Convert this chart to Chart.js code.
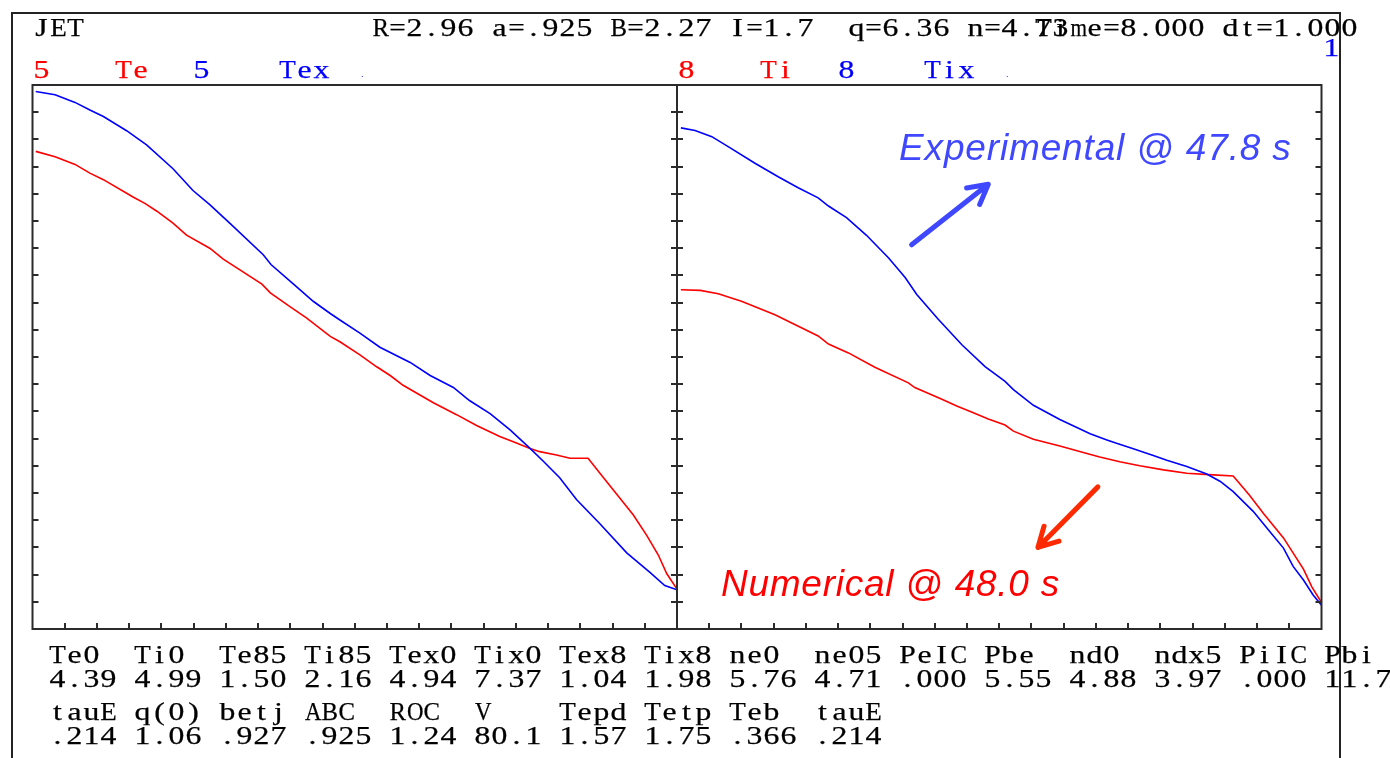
<!DOCTYPE html>
<html>
<head>
<meta charset="utf-8">
<title>JET Te / Ti profiles</title>
<script src="https://cdn.jsdelivr.net/npm/chart.js@4.4.1/dist/chart.umd.min.js"></script>
<style>
  html, body { margin: 0; padding: 0; background: #fff; }
  #page { position: relative; width: 1390px; height: 758px; overflow: hidden; background: #fff; }
  #page canvas { position: absolute; left: 0; top: 0; }
  .frame { position: absolute; left: 11px; top: 12px; width: 1330px; height: 800px;
           border: 2px solid #222; border-bottom: none; box-sizing: border-box; }
  .mono { position: absolute; font-family: "Liberation Serif", "Times New Roman", serif;
          font-size: 26px; line-height: 26px; white-space: pre; color: #000; z-index: 3;
          -webkit-text-stroke: 0.25px currentColor; }
  .mono span { display: inline-block; width: 17px; text-align: center; }
  .note { position: absolute; font-family: "Liberation Sans", Arial, sans-serif; font-style: italic;
          font-size: 37px; line-height: 37px; white-space: pre; z-index: 3; }
  .dot { position: absolute; font-family: "Liberation Sans", Arial, sans-serif; font-size: 9px;
         line-height: 9px; z-index: 3; }
</style>
</head>
<body>
<div id="page">
  <div class="frame"></div>
  <canvas id="leftPanel" width="1390" height="758"></canvas>
  <canvas id="rightPanel" width="1390" height="758"></canvas>
</div>
<script>
// ---- Profiles versus normalised radius rho (0 = axis, 1 = edge) ----
// Electron temperature (keV), simulation
const rhoTe = [0.005, 0.035, 0.066, 0.089, 0.110, 0.156, 0.175, 0.193, 0.218, 0.239, 0.275, 0.296,
               0.356, 0.369, 0.400, 0.425, 0.462, 0.477, 0.508, 0.534, 0.555, 0.575, 0.622, 0.658,
               0.689, 0.725, 0.746, 0.772, 0.787, 0.813, 0.834, 0.862, 0.886, 0.909, 0.932, 0.953,
               0.971, 0.984, 1.000];
const te    = [4.39, 4.34, 4.27, 4.19, 4.13, 3.97, 3.91, 3.84, 3.73, 3.62, 3.50, 3.40,
               3.17, 3.09, 2.96, 2.86, 2.69, 2.64, 2.52, 2.41, 2.33, 2.24, 2.08, 1.97,
               1.87, 1.77, 1.72, 1.66, 1.63, 1.60, 1.57, 1.57, 1.39, 1.22, 1.05, 0.86,
               0.68, 0.51, 0.366];
// Electron temperature (keV), measured
const rhoTex = [0.005, 0.035, 0.066, 0.089, 0.110, 0.146, 0.177, 0.218, 0.249, 0.275, 0.306, 0.358,
                0.370, 0.405, 0.436, 0.462, 0.477, 0.508, 0.539, 0.586, 0.617, 0.653, 0.678, 0.710,
                0.741, 0.772, 0.793, 0.818, 0.844, 0.880, 0.922, 0.958, 0.981, 1.000];
const tex    = [4.94, 4.91, 4.84, 4.77, 4.71, 4.58, 4.45, 4.23, 4.03, 3.90, 3.73, 3.44,
                3.35, 3.17, 3.01, 2.90, 2.84, 2.72, 2.59, 2.45, 2.33, 2.22, 2.10, 1.98,
                1.83, 1.66, 1.54, 1.39, 1.19, 0.97, 0.70, 0.52, 0.40, 0.36];
// Ion temperature (keV), simulation
const rhoTi = [0.006, 0.036, 0.064, 0.100, 0.152, 0.178, 0.219, 0.235, 0.266, 0.307, 0.359, 0.369,
               0.411, 0.434, 0.457, 0.483, 0.509, 0.522, 0.553, 0.594, 0.636, 0.656, 0.687, 0.718,
               0.755, 0.791, 0.825, 0.863, 0.888, 0.910, 0.941, 0.972, 0.985, 1.000];
const ti    = [4.99, 4.98, 4.93, 4.82, 4.62, 4.50, 4.31, 4.19, 4.06, 3.85, 3.62, 3.55,
               3.38, 3.28, 3.19, 3.09, 3.00, 2.91, 2.79, 2.69, 2.58, 2.53, 2.46, 2.40,
               2.34, 2.29, 2.27, 2.25, 1.97, 1.70, 1.34, 0.88, 0.62, 0.39];
// Ion temperature (keV), measured
const rhoTix = [0.006, 0.028, 0.054, 0.080, 0.121, 0.157, 0.188, 0.219, 0.235, 0.263, 0.294, 0.328,
                0.354, 0.372, 0.405, 0.442, 0.478, 0.509, 0.522, 0.553, 0.594, 0.641, 0.667, 0.682,
                0.708, 0.739, 0.760, 0.791, 0.822, 0.843, 0.863, 0.894, 0.920, 0.941, 0.956, 0.972,
                0.987, 1.000];
const tix    = [7.37, 7.33, 7.24, 7.09, 6.85, 6.65, 6.49, 6.34, 6.22, 6.05, 5.79, 5.46,
                5.17, 4.92, 4.56, 4.18, 3.86, 3.64, 3.52, 3.29, 3.08, 2.87, 2.78, 2.73,
                2.65, 2.55, 2.48, 2.39, 2.28, 2.17, 2.02, 1.73, 1.43, 1.19, 0.92, 0.72,
                0.50, 0.35];

// Axis ranges (keV full scale printed above each panel)
const teScaleMax = 5;
const tiScaleMax = 8;
const yDivisions = 20;
const xDivisions = 20;

// Summary table printed under the plots
const statNamesA  = ['Te0', 'Ti0', 'Te85', 'Ti85', 'Tex0', 'Tix0', 'Tex8', 'Tix8',
                     'ne0', 'ne05', 'PeIC', 'Pbe', 'nd0', 'ndx5', 'PiIC', 'Pbi'];
const statValuesA = ['4.39', '4.99', '1.50', '2.16', '4.94', '7.37', '1.04', '1.98',
                     '5.76', '4.71', '.000', '5.55', '4.88', '3.97', '.000', '11.7'];
const statNamesB  = ['tauE', 'q(0)', 'betj', 'ABC', 'ROC', 'V', 'Tepd', 'Tetp', 'Teb', 'tauE'];
const statValuesB = ['.214', '1.06', '.927', '.925', '1.24', '80.1', '1.57', '1.75', '.366', '.214'];

const headerParams = 'R=2.96 a=.925 B=2.27 I=1.7  q=6.36 n=4.73';
const headerTime   = 'Time=8.000 dt=1.000';

// ---------------------------------------------------------------
const page = document.getElementById('page');

// Fixed-pitch layout of a serif face: every character sits in a 17px cell,
// widened up to 1.22x but never beyond the cell.
const CELL = 17;
const measureCtx = document.createElement('canvas').getContext('2d');
measureCtx.font = '26px "Liberation Serif", "Times New Roman", serif';
function cellScale(ch) {
  const w = measureCtx.measureText(ch).width;
  if (!w) return 1;
  return Math.min(1.22, (CELL - 0.5) / w);
}

function monoRow(left, top, text, color) {
  const div = document.createElement('div');
  div.className = 'mono';
  div.style.left = left + 'px';
  div.style.top = top + 'px';
  if (color) div.style.color = color;
  for (const ch of text) {
    const s = document.createElement('span');
    s.textContent = ch === ' ' ? '\u00a0' : ch;
    if (ch !== ' ') s.style.transform = 'scaleX(' + cellScale(ch).toFixed(3) + ')';
    div.appendChild(s);
  }
  page.appendChild(div);
}
function addNote(left, top, text, color, spacing) {
  const div = document.createElement('div');
  div.className = 'note';
  div.style.left = left + 'px';
  div.style.top = top + 'px';
  div.style.color = color;
  div.style.letterSpacing = spacing + 'px';
  div.textContent = text;
  page.appendChild(div);
}
function addDot(left, top, color) {
  const div = document.createElement('div');
  div.className = 'dot';
  div.style.left = left + 'px';
  div.style.top = top + 'px';
  div.style.color = color;
  div.textContent = '.';
  page.appendChild(div);
}
const pad5 = s => (s + '     ').slice(0, 5);

// header lines
monoRow(33, 15, 'JET');
monoRow(372, 15, headerParams);
monoRow(372 + 39 * CELL, 15, headerTime);
addDot(1352, 27, '#000');
monoRow(1323, 35, '1', '#0000ff');

// panel titles
const RED = '#ff0000', BLUE = '#0000ff';
monoRow(33, 57, String(teScaleMax), RED);
monoRow(114.5, 57, 'Te', RED);
monoRow(193, 57, String(teScaleMax), BLUE);
monoRow(278.5, 57, 'Tex', BLUE);
addDot(361, 70, BLUE);
monoRow(33 + 645, 57, String(tiScaleMax), RED);
monoRow(114.5 + 645, 57, 'Ti', RED);
monoRow(193 + 645, 57, String(tiScaleMax), BLUE);
monoRow(278.5 + 645, 57, 'Tix', BLUE);
addDot(361 + 645, 70, BLUE);

// summary table
monoRow(48.5, 642, statNamesA.map(pad5).join(''));
monoRow(48.5, 666, statValuesA.map(pad5).join(''));
monoRow(48.5, 699, statNamesB.map(pad5).join(''));
monoRow(48.5, 723, statValuesB.map(pad5).join(''));

// annotations
addNote(899, 129, 'Experimental @ 47.8 s', '#3f48ff', 0.85);
addNote(721, 565, 'Numerical @ 48.0 s', '#ff0000', 0.75);

// ---------------------------------------------------------------
const pts = (xs, ys) => xs.map((x, i) => ({ x: x, y: ys[i] }));

function tickValues(scale, divisions) {
  if (scale.ticks && scale.ticks.length > 2) return scale.ticks.map(t => t.value);
  const out = [];
  for (let i = 0; i <= divisions; i++) out.push(scale.min + (scale.max - scale.min) * i / divisions);
  return out;
}

// Panel border plus inward tick marks
const panelFrame = {
  id: 'panelFrame',
  afterDatasetsDraw(chart, args, opts) {
    const { ctx, chartArea: a } = chart;
    const xs = chart.scales.x, ys = chart.scales.y;
    const len = 6;
    ctx.save();
    ctx.strokeStyle = '#2b2b2b';
    ctx.lineWidth = 2;
    ctx.strokeRect(a.left, a.top, a.right - a.left, a.bottom - a.top);
    ctx.beginPath();
    for (const v of tickValues(ys, yDivisions)) {
      if (v <= ys.min + 1e-9 || v >= ys.max - 1e-9) continue;
      const py = Math.round(ys.getPixelForValue(v));
      if (opts.leftIn)  { ctx.moveTo(a.left, py);  ctx.lineTo(a.left + len, py); }
      if (opts.rightIn) { ctx.moveTo(a.right - len, py); ctx.lineTo(a.right, py); }
    }
    for (const v of tickValues(xs, xDivisions)) {
      if (v <= xs.min + 1e-9 || v >= xs.max - 1e-9) continue;
      const px = Math.round(xs.getPixelForValue(v));
      ctx.moveTo(px, a.bottom); ctx.lineTo(px, a.bottom - len);
    }
    ctx.stroke();
    ctx.restore();
  }
};

// Open arrow heads placed in the right panel's data coordinates
const arrowPlugin = {
  id: 'noteArrows',
  afterDatasetsDraw(chart, args, opts) {
    if (!opts.arrows) return;
    const { ctx } = chart;
    const xs = chart.scales.x, ys = chart.scales.y;
    ctx.save();
    ctx.lineCap = 'round';
    ctx.lineJoin = 'round';
    for (const ar of opts.arrows) {
      const x0 = xs.getPixelForValue(ar.from[0]), y0 = ys.getPixelForValue(ar.from[1]);
      const x1 = xs.getPixelForValue(ar.to[0]),   y1 = ys.getPixelForValue(ar.to[1]);
      const ang = Math.atan2(y0 - y1, x0 - x1);
      const hl = 22, spread = 0.5;
      ctx.strokeStyle = ar.color;
      ctx.lineWidth = 5;
      ctx.beginPath();
      ctx.moveTo(x0, y0); ctx.lineTo(x1, y1);
      ctx.moveTo(x1 + hl * Math.cos(ang + spread), y1 + hl * Math.sin(ang + spread));
      ctx.lineTo(x1, y1);
      ctx.lineTo(x1 + hl * Math.cos(ang - spread), y1 + hl * Math.sin(ang - spread));
      ctx.stroke();
    }
    ctx.restore();
  }
};

function lineSet(data, color) {
  return { data: data, borderColor: color, borderWidth: 1.6, pointRadius: 0, tension: 0, fill: false };
}

function makePanel(id, padLeft, padRight, yMax, datasets, frameOpts, arrows) {
  return new Chart(document.getElementById(id), {
    type: 'line',
    data: { datasets: datasets },
    plugins: [panelFrame, arrowPlugin],
    options: {
      responsive: false,
      animation: false,
      devicePixelRatio: 1,
      layout: { padding: { left: padLeft, right: padRight, top: 85, bottom: 129 } },
      plugins: {
        legend: { display: false },
        tooltip: { enabled: false },
        panelFrame: frameOpts,
        noteArrows: { arrows: arrows }
      },
      scales: {
        x: { type: 'linear', min: 0, max: 1, display: false, ticks: { stepSize: 1 / xDivisions } },
        y: { type: 'linear', min: 0, max: yMax, display: false, ticks: { stepSize: yMax / yDivisions } }
      }
    }
  });
}

makePanel('leftPanel', 32.5, 1390 - 677, teScaleMax,
  [lineSet(pts(rhoTex, tex), BLUE), lineSet(pts(rhoTe, te), RED)],
  { leftIn: true, rightIn: true }, null);

makePanel('rightPanel', 677, 1390 - 1321.5, tiScaleMax,
  [lineSet(pts(rhoTix, tix), BLUE), lineSet(pts(rhoTi, ti), RED)],
  { leftIn: true, rightIn: true },
  [
    { from: [0.364, 5.65], to: [0.483, 6.54], color: '#3f48ff' },
    { from: [0.653, 2.09], to: [0.560, 1.20], color: '#ff2a00' }
  ]);
</script>
</body>
</html>
